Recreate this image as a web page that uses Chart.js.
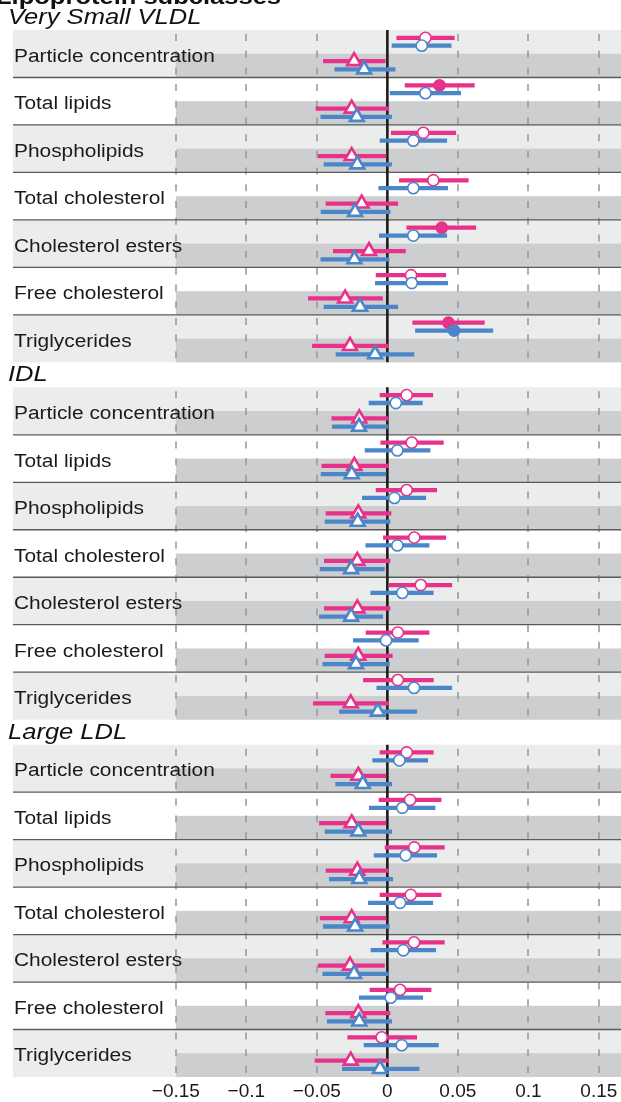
<!DOCTYPE html>
<html>
<head>
<meta charset="utf-8">
<script src="https://cdn.jsdelivr.net/npm/chart.js@4.4.1/dist/chart.umd.min.js"></script>
<style>
  html, body { margin: 0; padding: 0; background: #fff; }
  #wrap { position: relative; width: 621px; height: 1102px; overflow: hidden; }
</style>
</head>
<body>
<div id="wrap"><canvas id="chart"></canvas></div>
<script>
const header = 'Lipoprotein subclasses';
const sections = ['Very Small VLDL', 'IDL', 'Large LDL'];
const measures = ['Particle concentration', 'Total lipids', 'Phospholipids', 'Total cholesterol',
    'Cholesterol esters', 'Free cholesterol', 'Triglycerides'];
const tickValues = [-0.15, -0.1, -0.05, 0, 0.05, 0.1, 0.15];
const tickLabels = ['\u22120.15', '\u22120.1', '\u22120.05', '0', '0.05', '0.1', '0.15'];

// 21 values each: Very Small VLDL (7), IDL (7), Large LDL (7)
const pinkCircleEst = [0.027, 0.037, 0.0255, 0.0326, 0.0386, 0.0168, 0.0433,
    0.0137, 0.0173, 0.0137, 0.0191, 0.0237, 0.0074, 0.0074,
    0.0137, 0.0161, 0.0191, 0.0166, 0.0189, 0.009, -0.004];
const pinkCircleLo = [0.0067, 0.0126, 0.0028, 0.0085, 0.0138, -0.008, 0.018,
    -0.0052, -0.0047, -0.008, -0.0028, 0.0014, -0.0151, -0.017,
    -0.0052, -0.0059, -0.0016, -0.0052, -0.0033, -0.0123, -0.0281];
const pinkCircleHi = [0.0475, 0.0617, 0.0485, 0.0574, 0.0627, 0.0414, 0.0688,
    0.0322, 0.0397, 0.035, 0.0414, 0.0457, 0.0296, 0.0326,
    0.0326, 0.0381, 0.0404, 0.0381, 0.0404, 0.031, 0.0208];
const pinkCircleSig = [0, 1, 0, 0, 1, 0, 1, 0, 0, 0, 0, 0, 0, 0, 0, 0, 0, 0, 0, 0, 0];

const blueCircleEst = [0.0244, 0.027, 0.0184, 0.0184, 0.0184, 0.0173, 0.0473,
    0.006, 0.0071, 0.005, 0.0071, 0.0106, -0.0009, 0.0189,
    0.0085, 0.0106, 0.013, 0.009, 0.0113, 0.0024, 0.0102];
const blueCircleLo = [0.0033, 0.002, -0.0052, -0.0061, -0.0057, -0.0085, 0.0199,
    -0.013, -0.0158, -0.0177, -0.0153, -0.0118, -0.0241, -0.0075,
    -0.0104, -0.0128, -0.0094, -0.0135, -0.0116, -0.0199, -0.0165];
const blueCircleHi = [0.0452, 0.052, 0.0421, 0.0428, 0.0421, 0.0428, 0.0748,
    0.0248, 0.0303, 0.0272, 0.0296, 0.0326, 0.022, 0.0457,
    0.0286, 0.0338, 0.035, 0.0322, 0.0343, 0.0251, 0.0362];
const blueCircleSig = [0, 0, 0, 0, 0, 0, 1, 0, 0, 0, 0, 0, 0, 0, 0, 0, 0, 0, 0, 0, 0];

const pinkTriangleEst = [-0.0236, -0.0253, -0.0253, -0.0182, -0.013, -0.03, -0.0265,
    -0.0199, -0.0234, -0.0206, -0.0213, -0.0213, -0.0206, -0.026,
    -0.0206, -0.0253, -0.0213, -0.0253, -0.0265, -0.0206, -0.026];
const pinkTriangleLo = [-0.0454, -0.0506, -0.049, -0.0435, -0.0383, -0.056, -0.0532,
    -0.0394, -0.0465, -0.0435, -0.0447, -0.0447, -0.0442, -0.0525,
    -0.0401, -0.0482, -0.0435, -0.0477, -0.049, -0.0437, -0.0513];
const pinkTriangleHi = [-0.0016, 0.001, -0.001, 0.0074, 0.0128, -0.0035, 0.0007,
    0.0003, 0.0007, 0.0026, 0.0019, 0.0019, 0.0035, 0.0007,
    -0.001, -0.001, 0.0007, -0.001, -0.0021, 0.0019, 0.0007];

const blueTriangleEst = [-0.0165, -0.0217, -0.0213, -0.0229, -0.0234, -0.0194, -0.0087,
    -0.0201, -0.0253, -0.021, -0.0257, -0.0257, -0.0222, -0.0068,
    -0.0174, -0.0206, -0.0199, -0.0229, -0.0236, -0.0199, -0.0052];
const blueTriangleLo = [-0.0373, -0.0472, -0.0449, -0.047, -0.0472, -0.0449, -0.0364,
    -0.039, -0.047, -0.0442, -0.0477, -0.0482, -0.0458, -0.034,
    -0.0366, -0.0442, -0.0411, -0.0454, -0.0458, -0.0426, -0.0319];
const blueTriangleHi = [0.0055, 0.003, 0.003, 0.002, 0.0012, 0.0074, 0.0189,
    0.0003, -0.001, 0.0019, -0.0021, -0.0033, 0.0014, 0.0208,
    0.0031, 0.0031, 0.0038, 0.0014, 0.0007, 0.0031, 0.0225];

const PINK = '#e8318a';
const BLUE = '#4a86c8';
const GAP = 0.5263; // white gap between panels, in rows
const TOTAL = sections.length * measures.length + (sections.length - 1) * GAP;
const FONT = '"Liberation Sans", Arial, Helvetica, sans-serif';

function rowStart(i) {
    const s = Math.floor(i / measures.length);
    return s * (measures.length + GAP) + (i % measures.length);
}

function stretchedText(ctx, text, x, y, font, color, sx) {
    ctx.save();
    ctx.font = font;
    ctx.fillStyle = color;
    ctx.textBaseline = 'alphabetic';
    ctx.translate(x, y);
    ctx.scale(sx, 1);
    ctx.fillText(text, 0, 0);
    ctx.restore();
}

const panels = {
    id: 'panels',
    beforeDatasetsDraw(chart) {
        const { ctx, chartArea, scales } = chart;
        const x = scales.x;
        const y = scales.y;
        const left = chartArea.left;
        const right = chartArea.right;
        const bandX = x.getPixelForValue(tickValues[0]);
        const zeroX = x.getPixelForValue(0);

        stretchedText(ctx, header, -4, 4, 'bold 22px ' + FONT, '#111', 1.16);

        sections.forEach((name, s) => {
            const start = s * (measures.length + GAP);
            const top = y.getPixelForValue(start);
            const bottom = y.getPixelForValue(start + measures.length);

            measures.forEach((label, r) => {
                const y0 = y.getPixelForValue(start + r);
                const y1 = y.getPixelForValue(start + r + 1);
                const ym = (y0 + y1) / 2;
                ctx.fillStyle = r % 2 === 0 ? '#ebecec' : '#ffffff';
                ctx.fillRect(left, y0, right - left, y1 - y0);
                ctx.fillStyle = '#cdcecf';
                ctx.fillRect(bandX, ym, right - bandX, y1 - ym);
            });

            // dashed grid lines
            ctx.save();
            ctx.strokeStyle = 'rgba(150,150,150,0.85)';
            ctx.lineWidth = 1.8;
            ctx.setLineDash([7, 9.7]);
            tickValues.forEach(v => {
                if (v === 0) return;
                const px = Math.round(x.getPixelForValue(v));
                ctx.beginPath();
                ctx.moveTo(px, top + 4);
                ctx.lineTo(px, bottom);
                ctx.stroke();
            });
            ctx.restore();

            // row separators
            ctx.strokeStyle = '#5a5a5a';
            ctx.lineWidth = 1.3;
            for (let r = 1; r < measures.length; r++) {
                const py = y.getPixelForValue(start + r);
                ctx.beginPath();
                ctx.moveTo(left, py);
                ctx.lineTo(right, py);
                ctx.stroke();
            }

            // zero line
            ctx.strokeStyle = '#1c1c1c';
            ctx.lineWidth = 2.6;
            ctx.beginPath();
            ctx.moveTo(zeroX, top);
            ctx.lineTo(zeroX, bottom);
            ctx.stroke();

            measures.forEach((label, r) => {
                const py = y.getPixelForValue(start + r + 0.67);
                stretchedText(ctx, label, left + 1, py, '18px ' + FONT, '#1a1a1a', 1.16);
            });

            stretchedText(ctx, name, 8, top - 6, 'italic 22px ' + FONT, '#111', 1.16);
        });
    }
};

const series = [
    { est: pinkCircleEst, lo: pinkCircleLo, hi: pinkCircleHi, sig: pinkCircleSig, color: PINK, style: 'circle', offset: 0.165 },
    { est: blueCircleEst, lo: blueCircleLo, hi: blueCircleHi, sig: blueCircleSig, color: BLUE, style: 'circle', offset: 0.33 },
    { est: pinkTriangleEst, lo: pinkTriangleLo, hi: pinkTriangleHi, sig: null, color: PINK, style: 'triangle', offset: 0.655 },
    { est: blueTriangleEst, lo: blueTriangleLo, hi: blueTriangleHi, sig: null, color: BLUE, style: 'triangle', offset: 0.83 }
];

const datasets = [];
let order = series.length * 2;
series.forEach(item => {
    datasets.push({
        type: 'bar',
        indexAxis: 'y',
        grouped: false,
        maxBarThickness: 3.6,
        barPercentage: 1,
        categoryPercentage: 1,
        borderWidth: 0,
        backgroundColor: item.color,
        data: item.est.map((v, i) => ({ x: [item.lo[i], item.hi[i]], y: rowStart(i) + item.offset })),
        order: order--
    });
    const isCircle = item.style === 'circle';
    datasets.push({
        type: 'scatter',
        pointStyle: item.style,
        pointRadius: isCircle ? 5.6 : 8,
        pointBorderWidth: isCircle ? 1.6 : 2.6,
        pointBorderColor: item.color,
        pointBackgroundColor: item.est.map((v, i) => (item.sig && item.sig[i]) ? item.color : '#ffffff'),
        data: item.est.map((v, i) => ({ x: v, y: rowStart(i) + item.offset })),
        order: order--
    });
});

new Chart(document.getElementById('chart'), {
    type: 'scatter',
    data: { datasets },
    options: {
        responsive: true,
        maintainAspectRatio: false,
        animation: false,
        events: [],
        layout: { autoPadding: false, padding: { left: 13, top: 30, right: 0, bottom: 0 } },
        plugins: { legend: { display: false }, tooltip: { enabled: false } },
        scales: {
            x: {
                type: 'linear',
                min: -0.2655,
                max: 0.1657,
                offset: false,
                grid: { display: false, drawTicks: false },
                border: { display: false },
                afterBuildTicks: scale => {
                    scale.ticks = tickValues.map(value => ({ value }));
                },
                afterFit: scale => {
                    scale.height = 25;
                    scale.paddingLeft = 0;
                    scale.paddingRight = 0;
                },
                ticks: {
                    autoSkip: false,
                    maxRotation: 0,
                    padding: 3,
                    color: '#1a1a1a',
                    font: { family: FONT, size: 19 },
                    callback: (value, index) => tickLabels[index]
                }
            },
            y: {
                type: 'linear',
                display: false,
                reverse: true,
                offset: false,
                min: 0,
                max: TOTAL
            }
        }
    },
    plugins: [panels]
});
</script>
</body>
</html>
